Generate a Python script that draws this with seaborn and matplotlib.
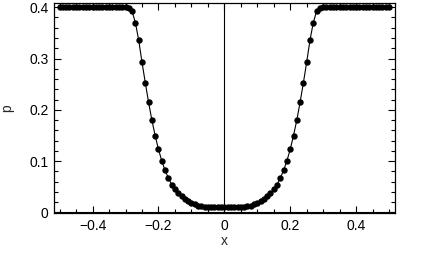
import matplotlib
matplotlib.use("Agg")
import matplotlib.pyplot as plt
import seaborn as sns
import pandas as pd
from matplotlib.ticker import MultipleLocator, FixedLocator

x_values = [
    -0.50, -0.49, -0.48, -0.47, -0.46, -0.45, -0.44, -0.43, -0.42, -0.41,
    -0.40, -0.39, -0.38, -0.37, -0.36, -0.35, -0.34, -0.33, -0.32, -0.31,
    -0.30, -0.29, -0.28, -0.27, -0.26, -0.25, -0.24, -0.23, -0.22, -0.21,
    -0.20, -0.19, -0.18, -0.17, -0.16, -0.15, -0.14, -0.13, -0.12, -0.11,
    -0.10, -0.09, -0.08, -0.07, -0.06, -0.05, -0.04, -0.03, -0.02, -0.01,
    0.00,
    0.01, 0.02, 0.03, 0.04, 0.05, 0.06, 0.07, 0.08, 0.09, 0.10,
    0.11, 0.12, 0.13, 0.14, 0.15, 0.16, 0.17, 0.18, 0.19, 0.20,
    0.21, 0.22, 0.23, 0.24, 0.25, 0.26, 0.27, 0.28, 0.29, 0.30,
    0.31, 0.32, 0.33, 0.34, 0.35, 0.36, 0.37, 0.38, 0.39, 0.40,
    0.41, 0.42, 0.43, 0.44, 0.45, 0.46, 0.47, 0.48, 0.49, 0.50,
]

p_values = [
    0.400, 0.400, 0.400, 0.400, 0.400, 0.400, 0.400, 0.400, 0.400, 0.400,
    0.400, 0.400, 0.400, 0.400, 0.400, 0.400, 0.400, 0.400, 0.400, 0.400,
    0.400, 0.399, 0.392, 0.370, 0.336, 0.293, 0.253, 0.215, 0.180, 0.150,
    0.123, 0.101, 0.082, 0.0675, 0.0545, 0.0455, 0.0377, 0.0315, 0.0267, 0.0228,
    0.0192, 0.0158, 0.0133, 0.0118, 0.0108, 0.0102, 0.010, 0.010, 0.010, 0.010,
    0.010,
    0.010, 0.010, 0.010, 0.010, 0.0102, 0.0108, 0.0118, 0.0133, 0.0158, 0.0192,
    0.0228, 0.0267, 0.0315, 0.0377, 0.0455, 0.0545, 0.0675, 0.082, 0.101, 0.123,
    0.150, 0.180, 0.215, 0.253, 0.293, 0.336, 0.370, 0.392, 0.399, 0.400,
    0.400, 0.400, 0.400, 0.400, 0.400, 0.400, 0.400, 0.400, 0.400, 0.400,
    0.400, 0.400, 0.400, 0.400, 0.400, 0.400, 0.400, 0.400, 0.400, 0.400,
]

x_ticks = [-0.4, -0.2, 0.0, 0.2, 0.4]
x_tick_labels = ["\u22120.4", "\u22120.2", "0", "0.2", "0.4"]
y_ticks = [0.0, 0.1, 0.2, 0.3, 0.4]
y_tick_labels = ["0", "0.1", "0.2", "0.3", "0.4"]

sns.set_style("ticks")
plt.rcParams["font.family"] = ["Liberation Sans", "DejaVu Sans"]

df = pd.DataFrame({"x": x_values, "p": p_values})

fig = plt.figure(figsize=(4.22, 2.61), dpi=100)
ax = fig.add_axes([0.128, 0.183, 0.808, 0.807])

ax.axvline(0, color="black", lw=0.8, zorder=1)
ax.axhline(0, color="black", lw=0.8, zorder=1)

sns.lineplot(data=df, x="x", y="p", ax=ax, color="black", lw=0.8,
             marker="o", markersize=4.6, markeredgewidth=0, sort=False,
             zorder=3)

ax.set_xlim(-0.517, 0.518)
ax.set_ylim(-0.0015, 0.409)

ax.xaxis.set_major_locator(FixedLocator(x_ticks))
ax.set_xticklabels(x_tick_labels)
ax.yaxis.set_major_locator(FixedLocator(y_ticks))
ax.set_yticklabels(y_tick_labels)
ax.xaxis.set_minor_locator(MultipleLocator(0.05))
ax.yaxis.set_minor_locator(MultipleLocator(0.02))

ax.tick_params(which="both", direction="in", top=True, right=True,
               colors="black", labelsize=10, width=0.8)
ax.tick_params(which="major", length=5, pad=4)
ax.tick_params(which="minor", length=3)

for s in ax.spines.values():
    s.set_visible(True)
    s.set_color("black")
    s.set_linewidth(0.9)

ax.set_xlabel("x", fontsize=10, labelpad=1)
ax.set_ylabel("p", fontsize=10, labelpad=11)

fig.savefig("out.png", dpi=100)
